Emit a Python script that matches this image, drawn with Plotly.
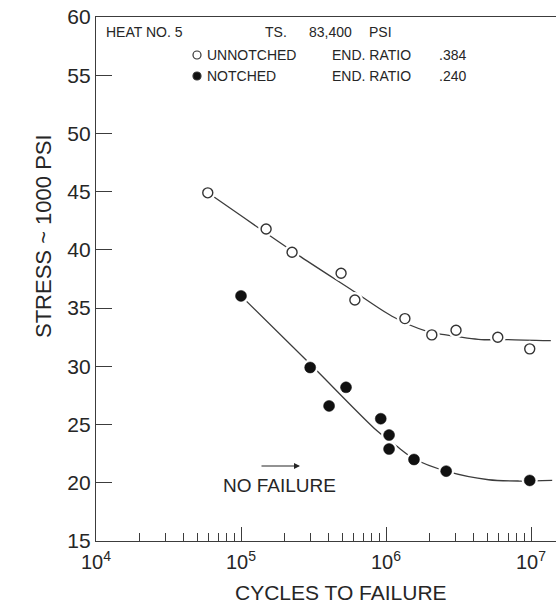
import plotly.graph_objects as go

# ---------------- data ----------------
unnotched_cycles = [5.9e4, 1.49e5, 2.25e5, 4.9e5, 6.1e5, 1.35e6, 2.07e6, 3.04e6, 5.9e6, 9.8e6]
unnotched_stress = [44.9, 41.8, 39.8, 38.0, 35.7, 34.1, 32.7, 33.1, 32.5, 31.5]

notched_cycles = [1.0e5, 3.0e5, 5.3e5, 4.05e5, 9.2e5, 1.05e6, 1.05e6, 1.56e6, 2.6e6, 9.8e6]
notched_stress = [36.05, 29.9, 28.2, 26.6, 25.5, 24.1, 22.9, 22.0, 21.0, 20.2]

# hand-drawn fitted curves (nodes)
unnotched_fit_cycles = [5.92e4, 2.59e5, 5.74e5, 1.10e6, 1.92e6, 2.59e6, 4.52e6, 6.82e6, 1.37e7]
unnotched_fit_stress = [44.9, 39.4, 36.6, 34.3, 33.0, 32.7, 32.3, 32.3, 32.2]

notched_fit_cycles = [1.0e5, 3.0e5, 8.67e5, 1.17e6, 1.56e6, 2.6e6, 5.1e6, 8.3e6, 1.4e7]
notched_fit_stress = [36.05, 30.2, 24.46, 23.2, 22.06, 21.0, 20.26, 20.15, 20.2]

y_ticks = [15, 20, 25, 30, 35, 40, 45, 50, 55, 60]
x_tick_vals = [1e4, 1e5, 1e6, 1e7]
x_tick_text = ["10<sup>4</sup>", "10<sup>5</sup>", "10<sup>6</sup>", "10<sup>7</sup>"]

header_heat = "HEAT NO. 5"
header_ts = ["TS.", "83,400", "PSI"]
legend_names = ["UNNOTCHED", "NOTCHED"]
legend_ratio_label = "END. RATIO"
legend_ratios = [".384", ".240"]
note_text = "NO FAILURE"
x_title = "CYCLES TO FAILURE"
y_title = "STRESS ~ 1000 PSI"

# ---------------- layout geometry ----------------
W, H = 556, 608
PL, PT, PW, PH = 96, 17, 460, 524
INK = "#262626"
LINE = "#3c3c3c"
FONT = "Liberation Sans, Arial, sans-serif"


def px(x):
    return (x - PL) / PW


def py(y):
    return (PT + PH - y) / PH


fig = go.Figure()

# fitted lines
fig.add_trace(go.Scatter(x=unnotched_fit_cycles, y=unnotched_fit_stress, mode="lines",
                         line=dict(color=LINE, width=1.3, shape="spline", smoothing=0.8),
                         hoverinfo="skip", showlegend=False))
fig.add_trace(go.Scatter(x=notched_fit_cycles, y=notched_fit_stress, mode="lines",
                         line=dict(color=LINE, width=1.3, shape="spline", smoothing=0.8),
                         hoverinfo="skip", showlegend=False))

# white halos so the line is broken around each point
for xs, ys in ((unnotched_cycles, unnotched_stress), (notched_cycles, notched_stress)):
    fig.add_trace(go.Scatter(x=xs, y=ys, mode="markers",
                             marker=dict(color="white", size=16, line=dict(width=0)),
                             hoverinfo="skip", showlegend=False))

fig.add_trace(go.Scatter(x=unnotched_cycles, y=unnotched_stress, mode="markers", name="UNNOTCHED",
                         marker=dict(symbol="circle", size=10, color="white",
                                     line=dict(color="#333333", width=1.4)),
                         showlegend=False))
fig.add_trace(go.Scatter(x=notched_cycles, y=notched_stress, mode="markers", name="NOTCHED",
                         marker=dict(symbol="circle", size=11, color="#111111",
                                     line=dict(color="#111111", width=0.5)),
                         showlegend=False))

ann = []
shapes = []


def text(x, y, s, size, anchor="left"):
    ann.append(dict(x=px(x), y=py(y), xref="paper", yref="paper", text=s, showarrow=False,
                    xanchor=anchor, yanchor="middle",
                    font=dict(family=FONT, size=size, color=INK)))


# header block
ROW1, ROW2, ROW3 = 32, 55, 76
HS = 14
text(104, ROW1, header_heat, HS)
text(263, ROW1, header_ts[0], HS)
text(307, ROW1, header_ts[1], HS)
text(367, ROW1, header_ts[2], HS)
for row, name, ratio, filled in ((ROW2, legend_names[0], legend_ratios[0], False),
                                 (ROW3, legend_names[1], legend_ratios[1], True)):
    shapes.append(dict(type="circle", xref="paper", yref="paper",
                       xsizemode="pixel", ysizemode="pixel",
                       xanchor=px(197), yanchor=py(row), x0=-4, x1=4, y0=-4, y1=4,
                       line=dict(color="#333333", width=1.2),
                       fillcolor="#111111" if filled else "white"))
    text(205, row, name, HS)
    text(330, row, legend_ratio_label, HS)
    text(437, row, ratio, HS)

# no-failure note
text(279, 485, note_text, 19, anchor="center")
ann.append(dict(x=px(300), y=py(466), ax=-40, ay=0,
                xref="paper", yref="paper", axref="pixel", ayref="pixel",
                text="", showarrow=True, arrowhead=2, arrowsize=1, arrowwidth=1.2,
                arrowcolor=INK))

# axis titles
text(341, 592, x_title, 21, anchor="center")
ann.append(dict(x=px(44), y=py(236), xref="paper", yref="paper", text=y_title,
                textangle=-90, showarrow=False, xanchor="center", yanchor="middle",
                font=dict(family=FONT, size=22, color=INK)))

fig.update_layout(
    width=W, height=H,
    margin=dict(l=PL, r=W - PL - PW, t=PT, b=H - PT - PH, pad=0),
    paper_bgcolor="white", plot_bgcolor="white",
    annotations=ann, shapes=shapes,
    font=dict(family=FONT, color=INK),
)

fig.update_xaxes(
    type="log", range=[4, 4 + PW / 145.0],
    showgrid=False, zeroline=False,
    showline=True, linecolor=LINE, linewidth=1.3, mirror=True,
    tickmode="array", tickvals=x_tick_vals, ticktext=x_tick_text,
    ticks="inside", ticklen=14, tickwidth=1.1, tickcolor=LINE,
    minor=dict(ticks="inside", ticklen=8, tickwidth=1.1, tickcolor=LINE, dtick="D1", showgrid=False),
    tickfont=dict(family=FONT, size=20, color=INK),
    ticklabelstandoff=3,
)
fig.update_yaxes(
    range=[15, 60], showgrid=False, zeroline=False,
    showline=True, linecolor=LINE, linewidth=1.3, mirror=False,
    tickmode="array", tickvals=y_ticks,
    ticks="inside", ticklen=16, tickwidth=1.1, tickcolor=LINE,
    tickfont=dict(family=FONT, size=21, color=INK),
    ticklabelstandoff=0,
)

fig.write_html("out.html")
